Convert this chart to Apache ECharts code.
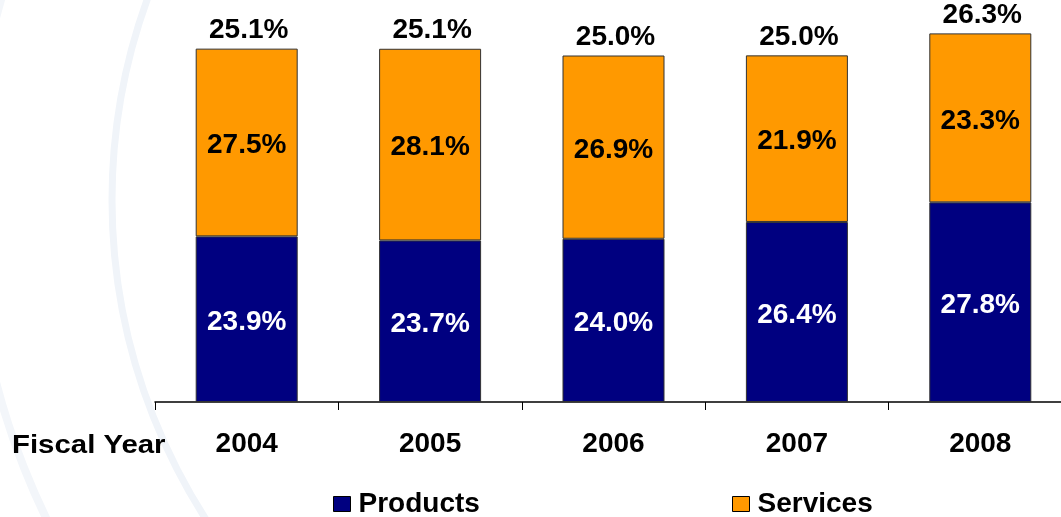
<!DOCTYPE html>
<html>
<head>
<meta charset="utf-8">
<script src="https://cdn.jsdelivr.net/npm/echarts@6/dist/echarts.min.js"></script>
<style>
html,body{margin:0;padding:0;background:#fff;}
#chart{width:1061px;height:517px;}
</style>
</head>
<body>
<div id="chart"></div>
<script>
// Categories (fiscal years)
var years = ['2004', '2005', '2006', '2007', '2008'];
// Segment contributions to total margin (bar heights)
var productContribution = [11.83, 11.54, 11.66, 12.86, 14.26];
var serviceContribution = [13.41, 13.69, 13.09, 11.90, 12.07];
// Printed margin labels
var productMargin = [23.9, 23.7, 24.0, 26.4, 27.8];
var serviceMargin = [27.5, 28.1, 26.9, 21.9, 23.3];
var totalMargin = [25.1, 25.1, 25.0, 25.0, 26.3];

var FONT = "'Liberation Sans', Arial, Helvetica, sans-serif";
var chart = echarts.init(document.getElementById('chart'));

var totals = years.map(function (y, i) { return productContribution[i] + serviceContribution[i]; });

chart.setOption({
  animation: false,
  backgroundColor: '#ffffff',
  graphic: [
    { type: 'circle', z: 0, silent: true, shape: { cx: 701, cy: 200, r: 589 },
      style: { fill: 'none', stroke: '#f0f4f9', lineWidth: 7 } },
    { type: 'circle', z: 0, silent: true, shape: { cx: 701, cy: 200, r: 728 },
      style: { fill: 'none', stroke: '#f3f6fa', lineWidth: 8 } },
    { type: 'text', z: 5, x: 12, y: 446, scaleX: 1.13,
      style: { text: 'Fiscal Year', font: 'bold 26px ' + FONT, fill: '#000',
               textAlign: 'left', textVerticalAlign: 'middle' } }
  ],
  grid: { left: 155, top: 3, width: 917, height: 399, containLabel: false, outerBoundsMode: 'none' },
  legend: [
    { data: ['Products'], left: 333, top: 489, padding: 0, icon: 'rect', itemWidth: 17, itemHeight: 15, itemGap: 0,
      textStyle: { fontFamily: FONT, fontWeight: 'bold', fontSize: 28, color: '#000', lineHeight: 30, padding: [0,0,0,3] },
      itemStyle: { borderColor: '#000', borderWidth: 1 } },
    { data: ['Services'], left: 732, top: 489, padding: 0, icon: 'rect', itemWidth: 17, itemHeight: 15, itemGap: 0,
      textStyle: { fontFamily: FONT, fontWeight: 'bold', fontSize: 28, color: '#000', lineHeight: 30, padding: [0,0,0,3] },
      itemStyle: { borderColor: '#000', borderWidth: 1 } }
  ],
  xAxis: {
    type: 'category',
    data: years,
    axisLine: { lineStyle: { color: '#000', width: 1.5 } },
    axisTick: { show: true, length: 8, lineStyle: { color: '#000', width: 1 } },
    axisLabel: { fontFamily: FONT, fontWeight: 'bold', fontSize: 28, color: '#000', margin: 28 }
  },
  yAxis: { type: 'value', min: 0, max: 28.5, show: false, splitLine: { show: false } },
  series: [
    {
      name: 'Products', type: 'bar', stack: 'total', barWidth: 102,
      data: productContribution,
      itemStyle: { color: '#000080', borderColor: '#333', borderWidth: 1 },
      label: { show: true, position: 'inside', offset: [0, 3], fontFamily: FONT, fontWeight: 'bold', fontSize: 28, color: '#fff',
        formatter: function (p) { return productMargin[p.dataIndex].toFixed(1) + '%'; } }
    },
    {
      name: 'Services', type: 'bar', stack: 'total', barWidth: 102,
      data: serviceContribution,
      itemStyle: { color: '#FF9900', borderColor: '#333', borderWidth: 1 },
      label: { show: true, position: 'inside', offset: [0, 3], fontFamily: FONT, fontWeight: 'bold', fontSize: 28, color: '#000',
        formatter: function (p) { return serviceMargin[p.dataIndex].toFixed(1) + '%'; } }
    },
    {
      name: 'Total', type: 'scatter', data: totals, symbolSize: 0,
      itemStyle: { color: '#000', opacity: 1 },
      label: { show: true, position: 'top', distance: 6, offset: [2, 2], fontFamily: FONT, fontWeight: 'bold', fontSize: 28, color: '#000', opacity: 1,
        formatter: function (p) { return totalMargin[p.dataIndex].toFixed(1) + '%'; } }
    }
  ]
});
</script>
</body>
</html>
